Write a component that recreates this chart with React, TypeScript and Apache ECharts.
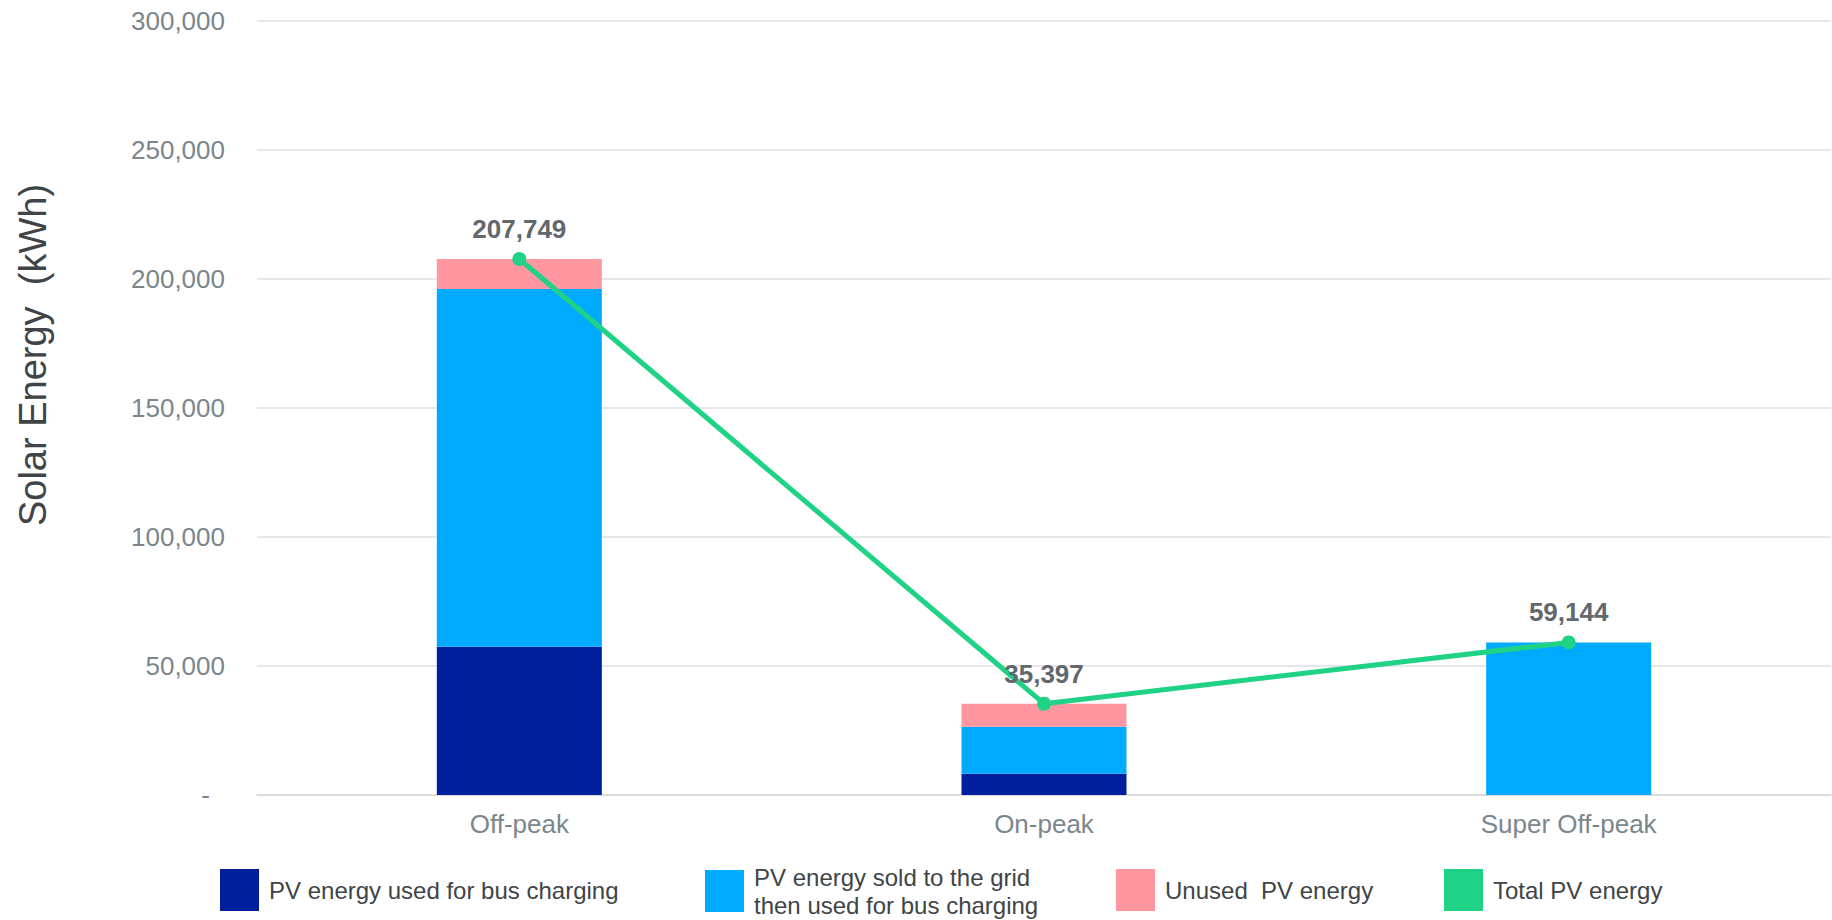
import React, { useEffect, useRef } from "react";
import * as echarts from "echarts";

// Time-of-use periods and energy split (kWh)
const categories = ["Off-peak", "On-peak", "Super Off-peak"];
const usedForCharging = [57500, 8250, 0];
const soldThenUsed = [138600, 18200, 59144];
const unusedEnergy = [11649, 8947, 0];
const totalEnergy = [207749, 35397, 59144];

const yTicks = { min: 0, max: 300000, interval: 50000 };

const seriesNames = [
  "PV energy used for bus charging",
  "PV energy sold to the grid then used for bus charging",
  "Unused PV energy",
  "Total PV energy",
];

const FONT = "'Liberation Sans', Arial, sans-serif";
const COLORS = ["#001f9c", "#00aaff", "#ff96a0", "#1fd286"];

const fmt = (v: number) => v.toLocaleString("en-US");

export default function App() {
  const ref = useRef<HTMLDivElement>(null);

  useEffect(() => {
    document.body.style.margin = "0";
    if (!ref.current) return;
    const chart = echarts.init(ref.current, undefined, { renderer: "svg" });

    const legendBase = {
      orient: "horizontal" as const,
      top: 869,
      padding: 0,
      itemWidth: 39,
      itemHeight: 42,
      icon: "rect",
      selectedMode: false,
      textStyle: {
        fontFamily: FONT,
        fontSize: 24,
        color: "#404448",
        lineHeight: 28,
        padding: [0, 0, 0, 5],
      },
    };

    chart.setOption({
      animation: false,
      color: COLORS,
      textStyle: { fontFamily: FONT },
      grid: { left: 257, right: 1, top: 21, bottom: 125, containLabel: false },
      legend: [
        { ...legendBase, left: 220, data: [seriesNames[0]] },
        {
          ...legendBase,
          left: 705,
          top: 863,
          data: [seriesNames[1]],
          formatter: () => "PV energy sold to the grid\nthen used for bus charging",
        },
        {
          ...legendBase,
          left: 1116,
          data: [seriesNames[2]],
          formatter: () => "Unused  PV energy",
        },
        { ...legendBase, left: 1444, data: [seriesNames[3]] },
      ],
      graphic: [
        {
          type: "text",
          x: 33,
          y: 355,
          rotation: Math.PI / 2,
          style: {
            text: "Solar Energy  (kWh)",
            font: `38px ${FONT}`,
            fill: "#404447",
            textAlign: "center",
            textVerticalAlign: "middle",
          },
        },
      ],
      xAxis: {
        type: "category",
        data: categories,
        axisTick: { show: false },
        axisLine: { show: true, lineStyle: { color: "#d9d9d9", width: 1.5 } },
        axisLabel: {
          fontFamily: FONT,
          fontSize: 26,
          color: "#7b868c",
          margin: 16,
        },
      },
      yAxis: {
        type: "value",
        min: yTicks.min,
        max: yTicks.max,
        interval: yTicks.interval,
        axisLine: { show: false },
        axisTick: { show: false },
        splitLine: { lineStyle: { color: "#dedfe0", width: 1.5 } },
        axisLabel: {
          fontFamily: FONT,
          fontSize: 26,
          color: "#7b868c",
          margin: 32,
          formatter: (v: number) => (v === 0 ? "{z|-}" : fmt(v)),
          rich: {
            z: {
              fontFamily: FONT,
              fontSize: 26,
              color: "#7b868c",
              padding: [0, 15, 0, 0],
            },
          },
        },
      },
      series: [
        {
          name: seriesNames[0],
          type: "bar",
          stack: "total",
          barWidth: 165,
          data: usedForCharging,
        },
        {
          name: seriesNames[1],
          type: "bar",
          stack: "total",
          barWidth: 165,
          data: soldThenUsed,
        },
        {
          name: seriesNames[2],
          type: "bar",
          stack: "total",
          barWidth: 165,
          data: unusedEnergy,
        },
        {
          name: seriesNames[3],
          type: "line",
          data: totalEnergy,
          symbol: "circle",
          symbolSize: 14,
          lineStyle: { width: 5, color: COLORS[3] },
          itemStyle: { color: COLORS[3] },
          z: 5,
          label: {
            show: true,
            position: "top",
            distance: 10,
            fontFamily: FONT,
            fontSize: 26,
            fontWeight: "bold",
            color: "#62686e",
            formatter: (p: any) => fmt(p.value),
          },
        },
      ],
    });

    return () => chart.dispose();
  }, []);

  return <div ref={ref} style={{ width: 1832, height: 920 }} />;
}
